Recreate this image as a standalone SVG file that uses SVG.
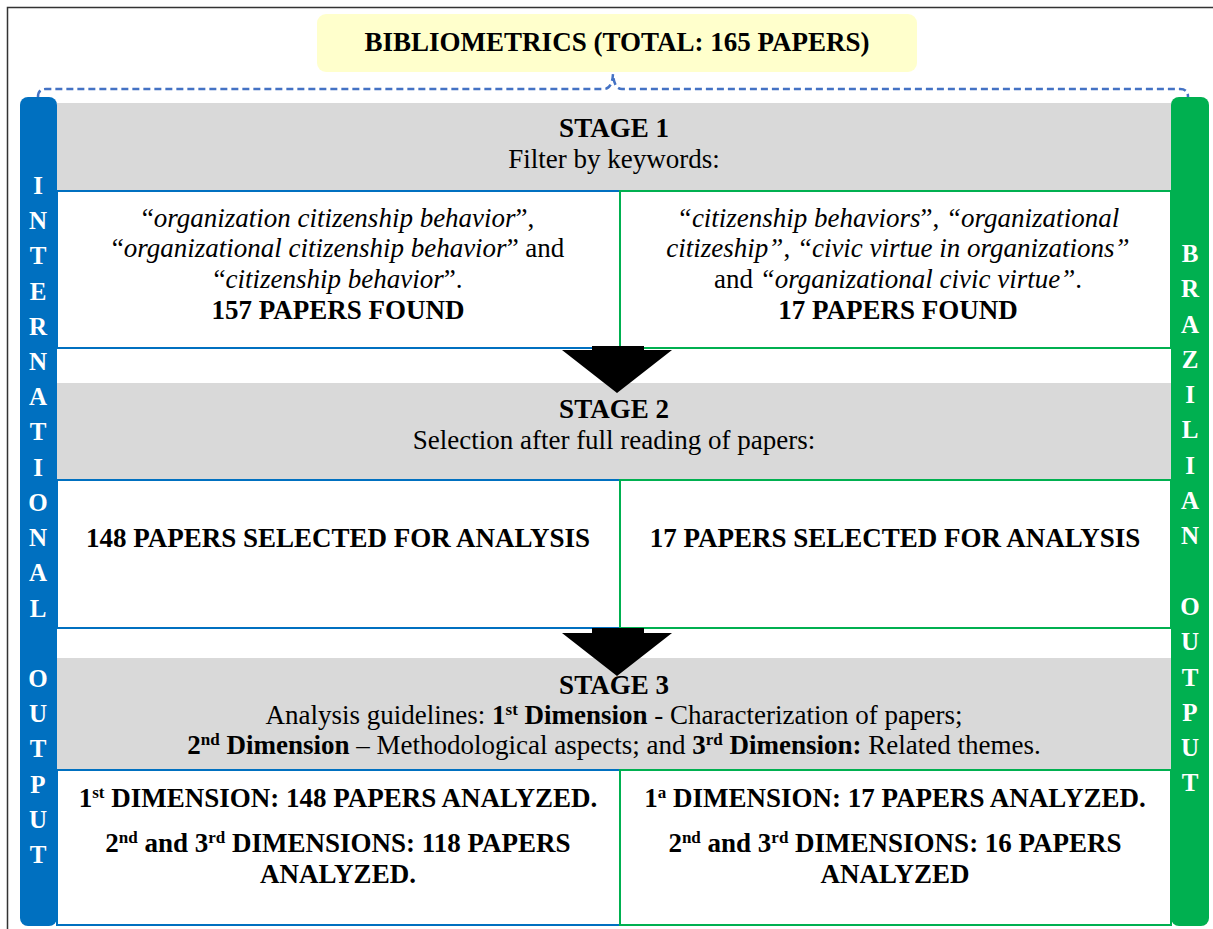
<svg xmlns="http://www.w3.org/2000/svg" width="1213" height="929" viewBox="0 0 1213 929" font-family="'Liberation Serif', 'DejaVu Serif', serif">
<style>
text{font-family:'Liberation Serif','DejaVu Serif',serif;fill:#000;text-anchor:middle}
.b{font-weight:bold}
.i{font-style:italic}
.t{font-size:27px}
.bar{font-size:25px;font-weight:bold;fill:#fff}
.sup{font-size:17px}
.gray{fill:#D9D9D9}
.lb{fill:#fff;stroke:#0070C0;stroke-width:2}
.rb{fill:#fff;stroke:#00B050;stroke-width:2}
</style>
<rect width="1213" height="929" fill="#fff"/>
<path d="M7.5,929 V7.5 H1213" fill="none" stroke="#333" stroke-width="1.5"/>

<g id="connectors">
<path d="M38,97 Q38,89 46,89 H604 Q612,89 613,74 Q614,89 622,89 H1180 Q1188,89 1188,97" fill="none" stroke="#4472C4" stroke-width="2.5" stroke-dasharray="7 4"/>
</g>

<g id="title">
<rect x="317" y="14" width="600" height="58" rx="9" fill="#FFFFCC"/>
<text class="t b" x="617" y="51">BIBLIOMETRICS (TOTAL: 165 PAPERS)</text>
</g>

<g id="international-bar">
<rect x="20" y="97" width="37" height="829" rx="8" fill="#0070C0"/>
<text class="bar"><tspan x="38" y="194">I</tspan><tspan x="38" y="229">N</tspan><tspan x="38" y="264">T</tspan><tspan x="38" y="300">E</tspan><tspan x="38" y="335">R</tspan><tspan x="38" y="370">N</tspan><tspan x="38" y="405">A</tspan><tspan x="38" y="440">T</tspan><tspan x="38" y="476">I</tspan><tspan x="38" y="511">O</tspan><tspan x="38" y="546">N</tspan><tspan x="38" y="581">A</tspan><tspan x="38" y="617">L</tspan><tspan x="38" y="687">O</tspan><tspan x="38" y="722">U</tspan><tspan x="38" y="757">T</tspan><tspan x="38" y="793">P</tspan><tspan x="38" y="828">U</tspan><tspan x="38" y="863">T</tspan></text>
</g>

<g id="brazilian-bar">
<rect x="1171" y="97" width="38" height="829" rx="8" fill="#00B050"/>
<text class="bar"><tspan x="1190" y="262">B</tspan><tspan x="1190" y="297">R</tspan><tspan x="1190" y="333">A</tspan><tspan x="1190" y="368">Z</tspan><tspan x="1190" y="403">I</tspan><tspan x="1190" y="438">L</tspan><tspan x="1190" y="474">I</tspan><tspan x="1190" y="509">A</tspan><tspan x="1190" y="544">N</tspan><tspan x="1190" y="615">O</tspan><tspan x="1190" y="650">U</tspan><tspan x="1190" y="686">T</tspan><tspan x="1190" y="721">P</tspan><tspan x="1190" y="756">U</tspan><tspan x="1190" y="791">T</tspan></text>
</g>

<g id="stage1">
<rect class="gray" x="57" y="103" width="1114" height="88"/>
<text class="t b" x="614" y="137">STAGE 1</text>
<text class="t" x="614" y="168">Filter by keywords:</text>
</g>

<g id="stage1-international">
<rect class="lb" x="57" y="191" width="563" height="157"/>
<text class="t" x="338" y="227">“<tspan class="i">organization citizenship behavior</tspan>”,</text>
<text class="t" x="338" y="257">“<tspan class="i">organizational citizenship behavior</tspan>” and</text>
<text class="t" x="338" y="288">“<tspan class="i">citizenship behavior</tspan>”.</text>
<text class="t b" x="338" y="319">157 PAPERS FOUND</text>
</g>

<g id="stage1-brazilian">
<rect class="rb" x="620" y="191" width="551" height="157"/>
<text class="t" x="898" y="227"><tspan class="i">“citizenship behaviors</tspan>”, <tspan class="i">“organizational</tspan></text>
<text class="t" x="898" y="257"><tspan class="i">citizeship”</tspan>, <tspan class="i">“civic virtue in organizations”</tspan></text>
<text class="t" x="898" y="288">and <tspan class="i">“organizational civic virtue”</tspan>.</text>
<text class="t b" x="898" y="319">17 PAPERS FOUND</text>
</g>

<g id="stage2">
<rect class="gray" x="57" y="383" width="1114" height="97"/>
<text class="t b" x="614" y="418">STAGE 2</text>
<text class="t" x="614" y="449">Selection after full reading of papers:</text>
</g>

<g id="stage2-international">
<rect class="lb" x="57" y="480" width="563" height="148"/>
<text class="t b" x="338" y="547">148 PAPERS SELECTED FOR ANALYSIS</text>
</g>

<g id="stage2-brazilian">
<rect class="rb" x="620" y="480" width="551" height="148"/>
<text class="t b" x="895" y="547">17 PAPERS SELECTED FOR ANALYSIS</text>
</g>

<g id="stage3">
<rect class="gray" x="57" y="658" width="1114" height="112"/>
<text class="t b" x="614" y="694">STAGE 3</text>
<text class="t" x="614" y="724">Analysis guidelines: <tspan class="b">1<tspan class="sup" dy="-9">st</tspan><tspan dy="9"> Dimension</tspan></tspan> - Characterization of papers;</text>
<text class="t" x="614" y="754"><tspan class="b">2<tspan class="sup" dy="-9">nd</tspan><tspan dy="9"> Dimension</tspan></tspan> – Methodological aspects; and <tspan class="b">3<tspan class="sup" dy="-9">rd</tspan><tspan dy="9"> Dimension:</tspan></tspan> Related themes.</text>
</g>

<g id="stage3-international">
<rect class="lb" x="57" y="770" width="563" height="155"/>
<text class="t b" x="338" y="807">1<tspan class="sup" dy="-9">st</tspan><tspan dy="9"> DIMENSION: 148 PAPERS ANALYZED.</tspan></text>
<text class="t b" x="338" y="852">2<tspan class="sup" dy="-9">nd</tspan><tspan dy="9"> and 3</tspan><tspan class="sup" dy="-9">rd</tspan><tspan dy="9"> DIMENSIONS: 118 PAPERS</tspan></text>
<text class="t b" x="338" y="883">ANALYZED.</text>
</g>

<g id="stage3-brazilian">
<rect class="rb" x="620" y="770" width="551" height="155"/>
<text class="t b" x="895" y="807">1<tspan class="sup" dy="-9">a</tspan><tspan dy="9"> DIMENSION: 17 PAPERS ANALYZED.</tspan></text>
<text class="t b" x="895" y="852">2<tspan class="sup" dy="-9">nd</tspan><tspan dy="9"> and 3</tspan><tspan class="sup" dy="-9">rd</tspan><tspan dy="9"> DIMENSIONS: 16 PAPERS</tspan></text>
<text class="t b" x="895" y="883">ANALYZED</text>
</g>

<g id="arrows">
<polygon points="592,346 644,346 644,350 672,350 617,393 562,350 592,350" fill="#000"/>
<polygon points="592,628 644,628 644,633 672,633 617,676 562,633 592,633" fill="#000"/>
</g>
</svg>
